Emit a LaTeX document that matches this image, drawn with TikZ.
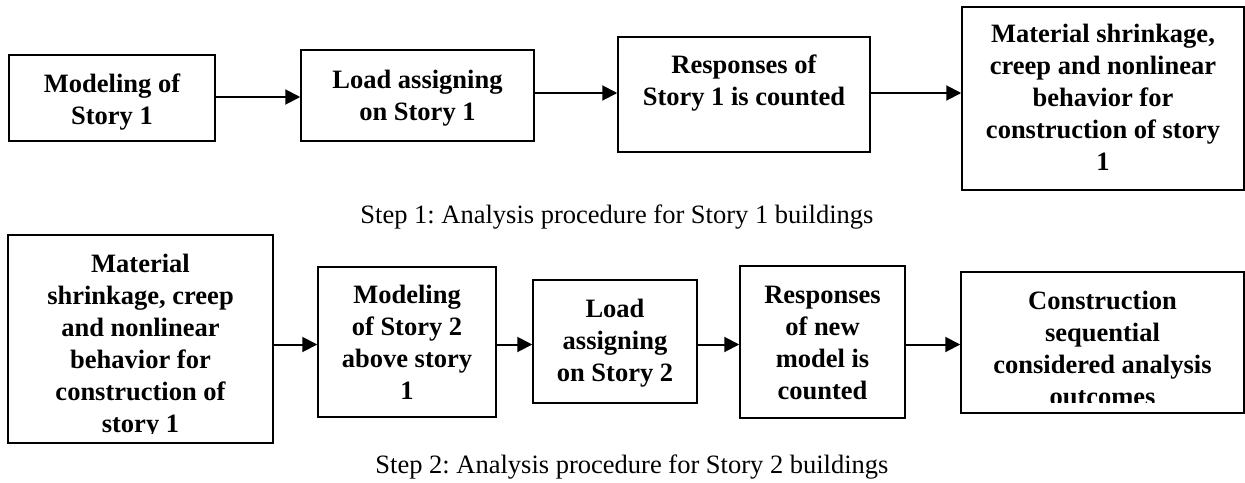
\documentclass[tikz,border=0pt]{standalone}
\usepackage{fontspec}
\setmainfont{Liberation Serif}
\usetikzlibrary{arrows.meta}
\frenchspacing
\newcommand\txtlines[1]{\begin{tabular}[t]{@{}c@{}}#1\end{tabular}}
\begin{document}
\begin{tikzpicture}[x=1pt,y=-1pt,
  box/.style={draw, line width=1.5pt, rectangle, inner sep=0pt},
  txt/.style={anchor=base, inner sep=0pt, font=\fontsize{26.5}{32}\selectfont\bfseries},
  captxt/.style={anchor=base, inner sep=0pt, font=\fontsize{26.5}{32}\selectfont},
  arr/.style={line width=2pt, -{Triangle[length=15pt,width=15pt]}}]
\useasboundingbox (0,0) rectangle (1245,482);
\fill[white] (0,0) rectangle (1245,482);

% Step 1 row
\node[box, minimum width=206pt, minimum height=86pt] (A) at (112,98) {};
\node[txt] (tA) at (112,92) {\txtlines{Modeling of\\Story 1}};

\node[box, minimum width=233pt, minimum height=91pt] (B) at (417.5,95.5) {};
\node[txt] (tB) at (417.5,88) {\txtlines{Load assigning\\on Story 1}};

\node[box, minimum width=252pt, minimum height=115pt] (C) at (744,94.5) {};
\node[txt] (tC) at (744,73) {\txtlines{Responses of\\Story 1 is counted}};

\node[box, minimum width=282pt, minimum height=183pt] (D) at (1103,98.5) {};
\node[txt] (tD) at (1103,42) {\txtlines{Material shrinkage,\\creep and nonlinear\\behavior for\\construction of story\\1}};

\coordinate (r1a) at (0,97);
\coordinate (r1b) at (0,93);
\draw[arr] (A.east |- r1a) -- (B.west |- r1a);
\draw[arr] (B.east |- r1b) -- (C.west |- r1b);
\draw[arr] (C.east |- r1b) -- (D.west |- r1b);

\node[captxt] (cap1) at (617,223) {Step 1: Analysis procedure for Story 1 buildings};

% Step 2 row
\node[box, minimum width=265pt, minimum height=208pt] (E1) at (140.5,339) {};
\begin{scope}
\clip (E1.north west) rectangle ([yshift=10pt]E1.south east);
\node[txt] (tE1) at (140.5,272) {\txtlines{Material\\shrinkage, creep\\and nonlinear\\behavior for\\construction of\\story 1}};
\end{scope}

\node[box, minimum width=178pt, minimum height=150pt] (E2) at (407,342) {};
\node[txt] (tE2) at (407,303) {\txtlines{Modeling\\of Story 2\\above story\\1}};

\node[box, minimum width=164pt, minimum height=123pt] (E3) at (615,341.5) {};
\node[txt] (tE3) at (615,317) {\txtlines{Load\\assigning\\on Story 2}};

\node[box, minimum width=165pt, minimum height=152pt] (E4) at (822.5,342) {};
\node[txt] (tE4) at (822.5,303) {\txtlines{Responses\\of new\\model is\\counted}};

\node[box, minimum width=283pt, minimum height=141pt] (E5) at (1102.5,342.5) {};
\begin{scope}
\clip (E5.north west) rectangle ([yshift=11pt]E5.south east);
\node[txt] (tE5) at (1102.5,309) {\txtlines{Construction\\sequential\\considered analysis\\outcomes}};
\end{scope}

\coordinate (r2) at (0,344.5);
\draw[arr] (E1.east |- r2) -- (E2.west |- r2);
\draw[arr] (E2.east |- r2) -- (E3.west |- r2);
\draw[arr] (E3.east |- r2) -- (E4.west |- r2);
\draw[arr] (E4.east |- r2) -- (E5.west |- r2);

\node[captxt] (cap2) at (632,473) {Step 2: Analysis procedure for Story 2 buildings};
\end{tikzpicture}
\end{document}
